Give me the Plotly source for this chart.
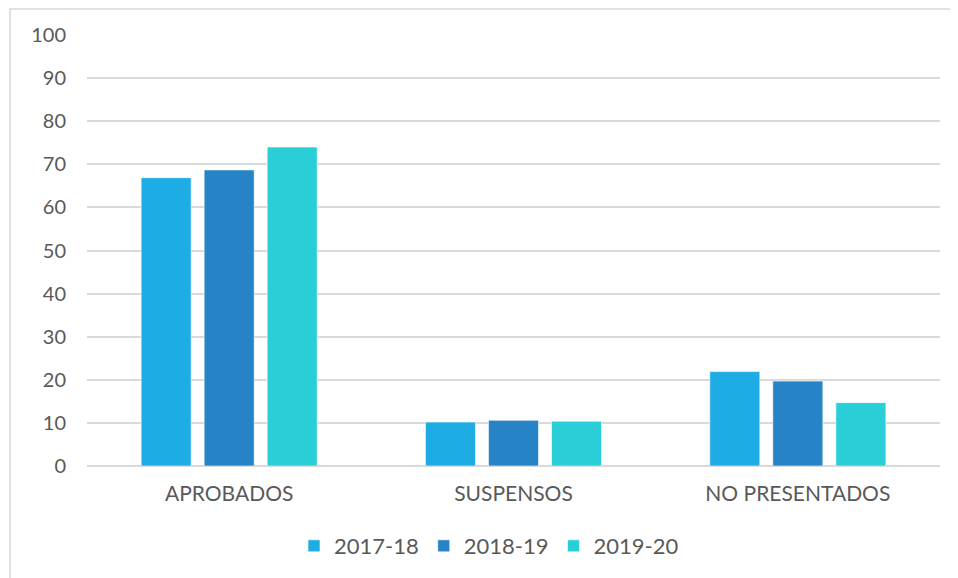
import plotly.graph_objects as go

categories = ["APROBADOS", "SUSPENSOS", "NO PRESENTADOS"]
series_names = ["2017-18", "2018-19", "2019-20"]
values_2017 = [66.9, 10.2, 21.9]
values_2018 = [68.7, 10.6, 19.7]
values_2019 = [74.0, 10.4, 14.7]
colors = ["#1EACE4", "#2683C6", "#29CED6"]
y_ticks = [0, 10, 20, 30, 40, 50, 60, 70, 80, 90, 100]

font_family = "Lato, 'Open Sans', sans-serif"
text_color = "#595959"

# page body has an 8px margin; the figure is positioned at (8, 8)
L, T, PW, PH = 79, 27, 853, 432

fig = go.Figure()
for name, vals, col in zip(series_names, [values_2017, values_2018, values_2019], colors):
    fig.add_trace(go.Bar(
        x=categories, y=vals, name=name,
        marker=dict(color=col, line=dict(color="rgba(255,255,255,0.6)", width=1)),
    ))

fig.update_layout(
    width=950, height=570,
    margin=dict(l=L, r=950 - L - PW, t=T, b=570 - T - PH),
    paper_bgcolor="white", plot_bgcolor="white",
    barmode="group", bargap=0.335, bargroupgap=0.206,
    font=dict(family=font_family, color=text_color, size=20),
    showlegend=True,
    legend=dict(orientation="h", x=(481 - L) / PW, xanchor="center",
                y=-(538 - T - PH) / PH, yanchor="middle",
                font=dict(size=22, color=text_color), itemwidth=30,
                traceorder="normal"),
    xaxis=dict(showgrid=False, showline=False, zeroline=False, ticks="",
               ticklabelstandoff=13,
               tickfont=dict(size=21, color=text_color)),
    yaxis=dict(range=[0, 100], tickvals=y_ticks, showgrid=True, gridcolor="#D9D9D9",
               gridwidth=1.5, zeroline=True, zerolinecolor="#D9D9D9", zerolinewidth=1.5,
               showline=False, ticks="", ticklabelstandoff=20,
               tickfont=dict(size=20, color=text_color)),
    shapes=[dict(type="rect", xref="paper", yref="paper",
                 x0=(2 - L) / PW, x1=1.3, y0=-0.6, y1=1 + (T - 1) / PH,
                 line=dict(color="#D9D9D9", width=1.5), fillcolor="rgba(0,0,0,0)",
                 layer="below")],
)

fig.write_html("out.html")
